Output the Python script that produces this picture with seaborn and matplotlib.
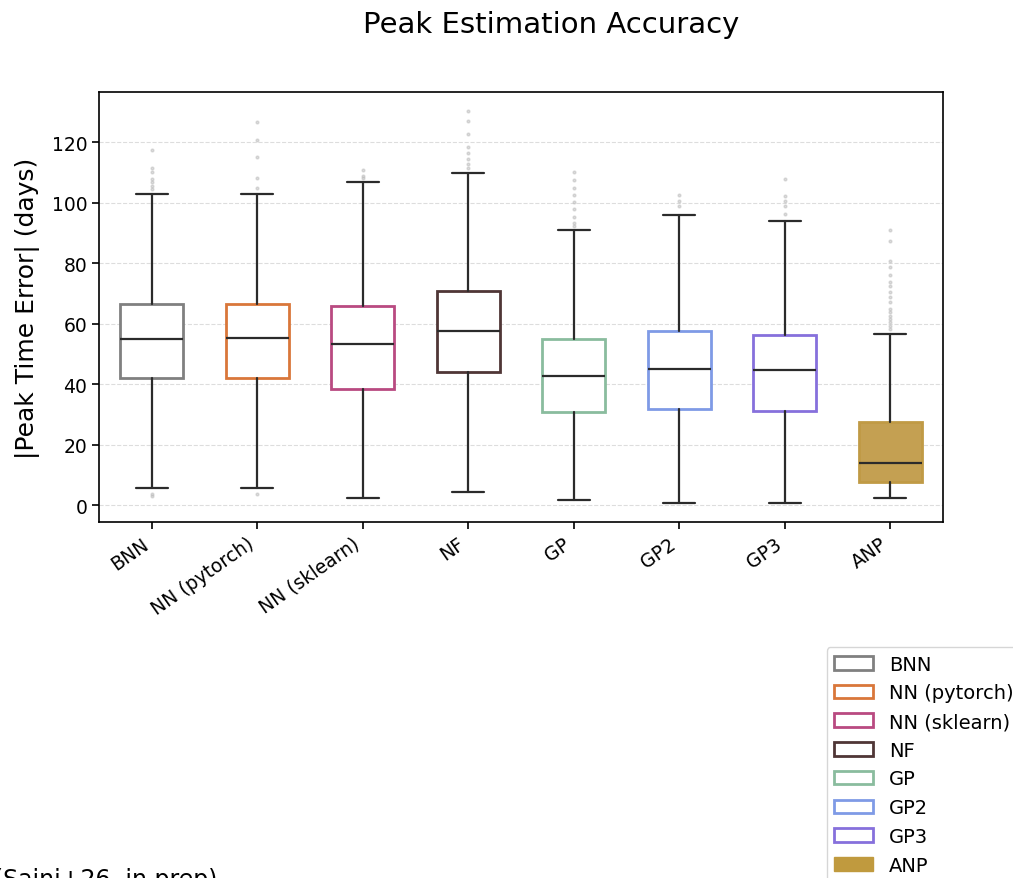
import matplotlib
matplotlib.use("Agg")
import matplotlib.pyplot as plt
from matplotlib.patches import Patch
import seaborn as sns

# Models compared
models = ["BNN", "NN (pytorch)", "NN (sklearn)", "NF", "GP", "GP2", "GP3", "ANP"]
colors = ["#808080", "#d9773a", "#b94a81", "#4f3636", "#8abc9e", "#7f9ae6", "#8670dc", "#c09a45"]

# Box summary statistics of |peak time error| in days
q1 = [42.0, 42.0, 38.3, 44.1, 30.9, 31.7, 31.1, 7.5]
med = [54.9, 55.1, 53.2, 57.5, 42.6, 45.1, 44.7, 13.9]
q3 = [66.4, 66.4, 65.7, 70.9, 54.9, 57.4, 56.3, 27.5]
whis_lo = [5.5, 5.6, 2.2, 4.2, 1.7, 0.8, 0.7, 2.2]
whis_hi = [103.0, 103.0, 106.7, 109.8, 90.8, 96.0, 94.0, 56.4]

# Outlying values beyond the whiskers
fliers_bnn = [117.4, 111.3, 110.2, 107.8, 106.7, 105.6, 104.5, 3.6, 3.0]
fliers_nn_torch = [126.7, 120.7, 115.2, 108.0, 104.7, 3.6]
fliers_nn_sk = [110.9, 108.7, 108.0]
fliers_nf = [130.2, 126.9, 122.6, 118.3, 116.4, 114.4, 112.7, 111.3]
fliers_gp = [110.2, 107.4, 104.8, 102.6, 100.1, 97.9, 95.1, 93.1, 92.1]
fliers_gp2 = [102.5, 100.6, 98.8]
fliers_gp3 = [107.8, 102.2, 100.6, 98.9, 96.2]
fliers_anp = [90.9, 87.2, 80.8, 78.8, 76.0, 73.6, 72.5, 70.3, 68.7, 67.0,
              64.8, 63.7, 62.6, 61.5, 60.4, 59.3, 58.2]
fliers = [fliers_bnn, fliers_nn_torch, fliers_nn_sk, fliers_nf,
          fliers_gp, fliers_gp2, fliers_gp3, fliers_anp]

sns.set_theme(style="ticks", rc={
    "text.color": "black", "axes.labelcolor": "black",
    "xtick.color": "black", "ytick.color": "black",
    "axes.edgecolor": "black",
})
plt.rcParams["font.family"] = ["DejaVu Sans"]

fig = plt.figure(figsize=(10.13, 8.79), dpi=100)
ax = fig.add_axes([0.0977, 0.405, 0.8332, 0.489])

stats = []
for i, m in enumerate(models):
    stats.append(dict(label=m, q1=q1[i], med=med[i], q3=q3[i],
                      whislo=whis_lo[i], whishi=whis_hi[i], fliers=fliers[i]))

bp = ax.bxp(stats, positions=range(len(models)), widths=0.6, patch_artist=True,
            medianprops=dict(color="#2b2b2b", linewidth=1.6),
            whiskerprops=dict(color="#2b2b2b", linewidth=1.6),
            capprops=dict(color="#2b2b2b", linewidth=1.6),
            flierprops=dict(marker="o", markersize=2, markerfacecolor="#bbbbbb",
                            markeredgecolor="#bbbbbb", alpha=0.5, linestyle="none"))

for i, box in enumerate(bp["boxes"]):
    if models[i] == "ANP":
        box.set_facecolor("#c4a052")
    else:
        box.set_facecolor("white")
    box.set_edgecolor(colors[i])
    box.set_linewidth(2.0)

ax.set_xlim(-0.5, 7.5)
ax.set_ylim(-5.6, 136.5)
ax.set_yticks([0, 20, 40, 60, 80, 100, 120])
ax.set_xticks(range(len(models)))
ax.set_xticklabels(models, rotation=35, ha="right", fontsize=13.5)
ax.tick_params(axis="y", labelsize=13.5)
ax.tick_params(axis="both", length=5, width=1.2, color="black")
ax.yaxis.grid(True, linestyle="--", color="#dddddd", linewidth=0.8)
ax.set_axisbelow(True)
for s in ax.spines.values():
    s.set_color("black")
    s.set_linewidth(1.2)
ax.set_ylabel("|Peak Time Error| (days)", fontsize=18, labelpad=8)

fig.text(0.544, 0.972, "Peak Estimation Accuracy", ha="center", va="center", fontsize=21)

handles = []
for i, m in enumerate(models):
    if m == "ANP":
        handles.append(Patch(facecolor="#c09a3e", edgecolor="#c09a3e", label=m))
    else:
        handles.append(Patch(facecolor="white", edgecolor=colors[i], linewidth=2, label=m))
fig.legend(handles=handles, loc="upper left", bbox_to_anchor=(0.816, 0.263),
           fontsize=14, frameon=True, edgecolor="#cccccc", fancybox=True,
           handlelength=2.0, labelspacing=0.5, borderaxespad=0.0)

fig.text(0.215, -0.015, "(Saini+26, in prep)", ha="right", va="bottom", fontsize=17)

fig.savefig("out.png", dpi=100)
